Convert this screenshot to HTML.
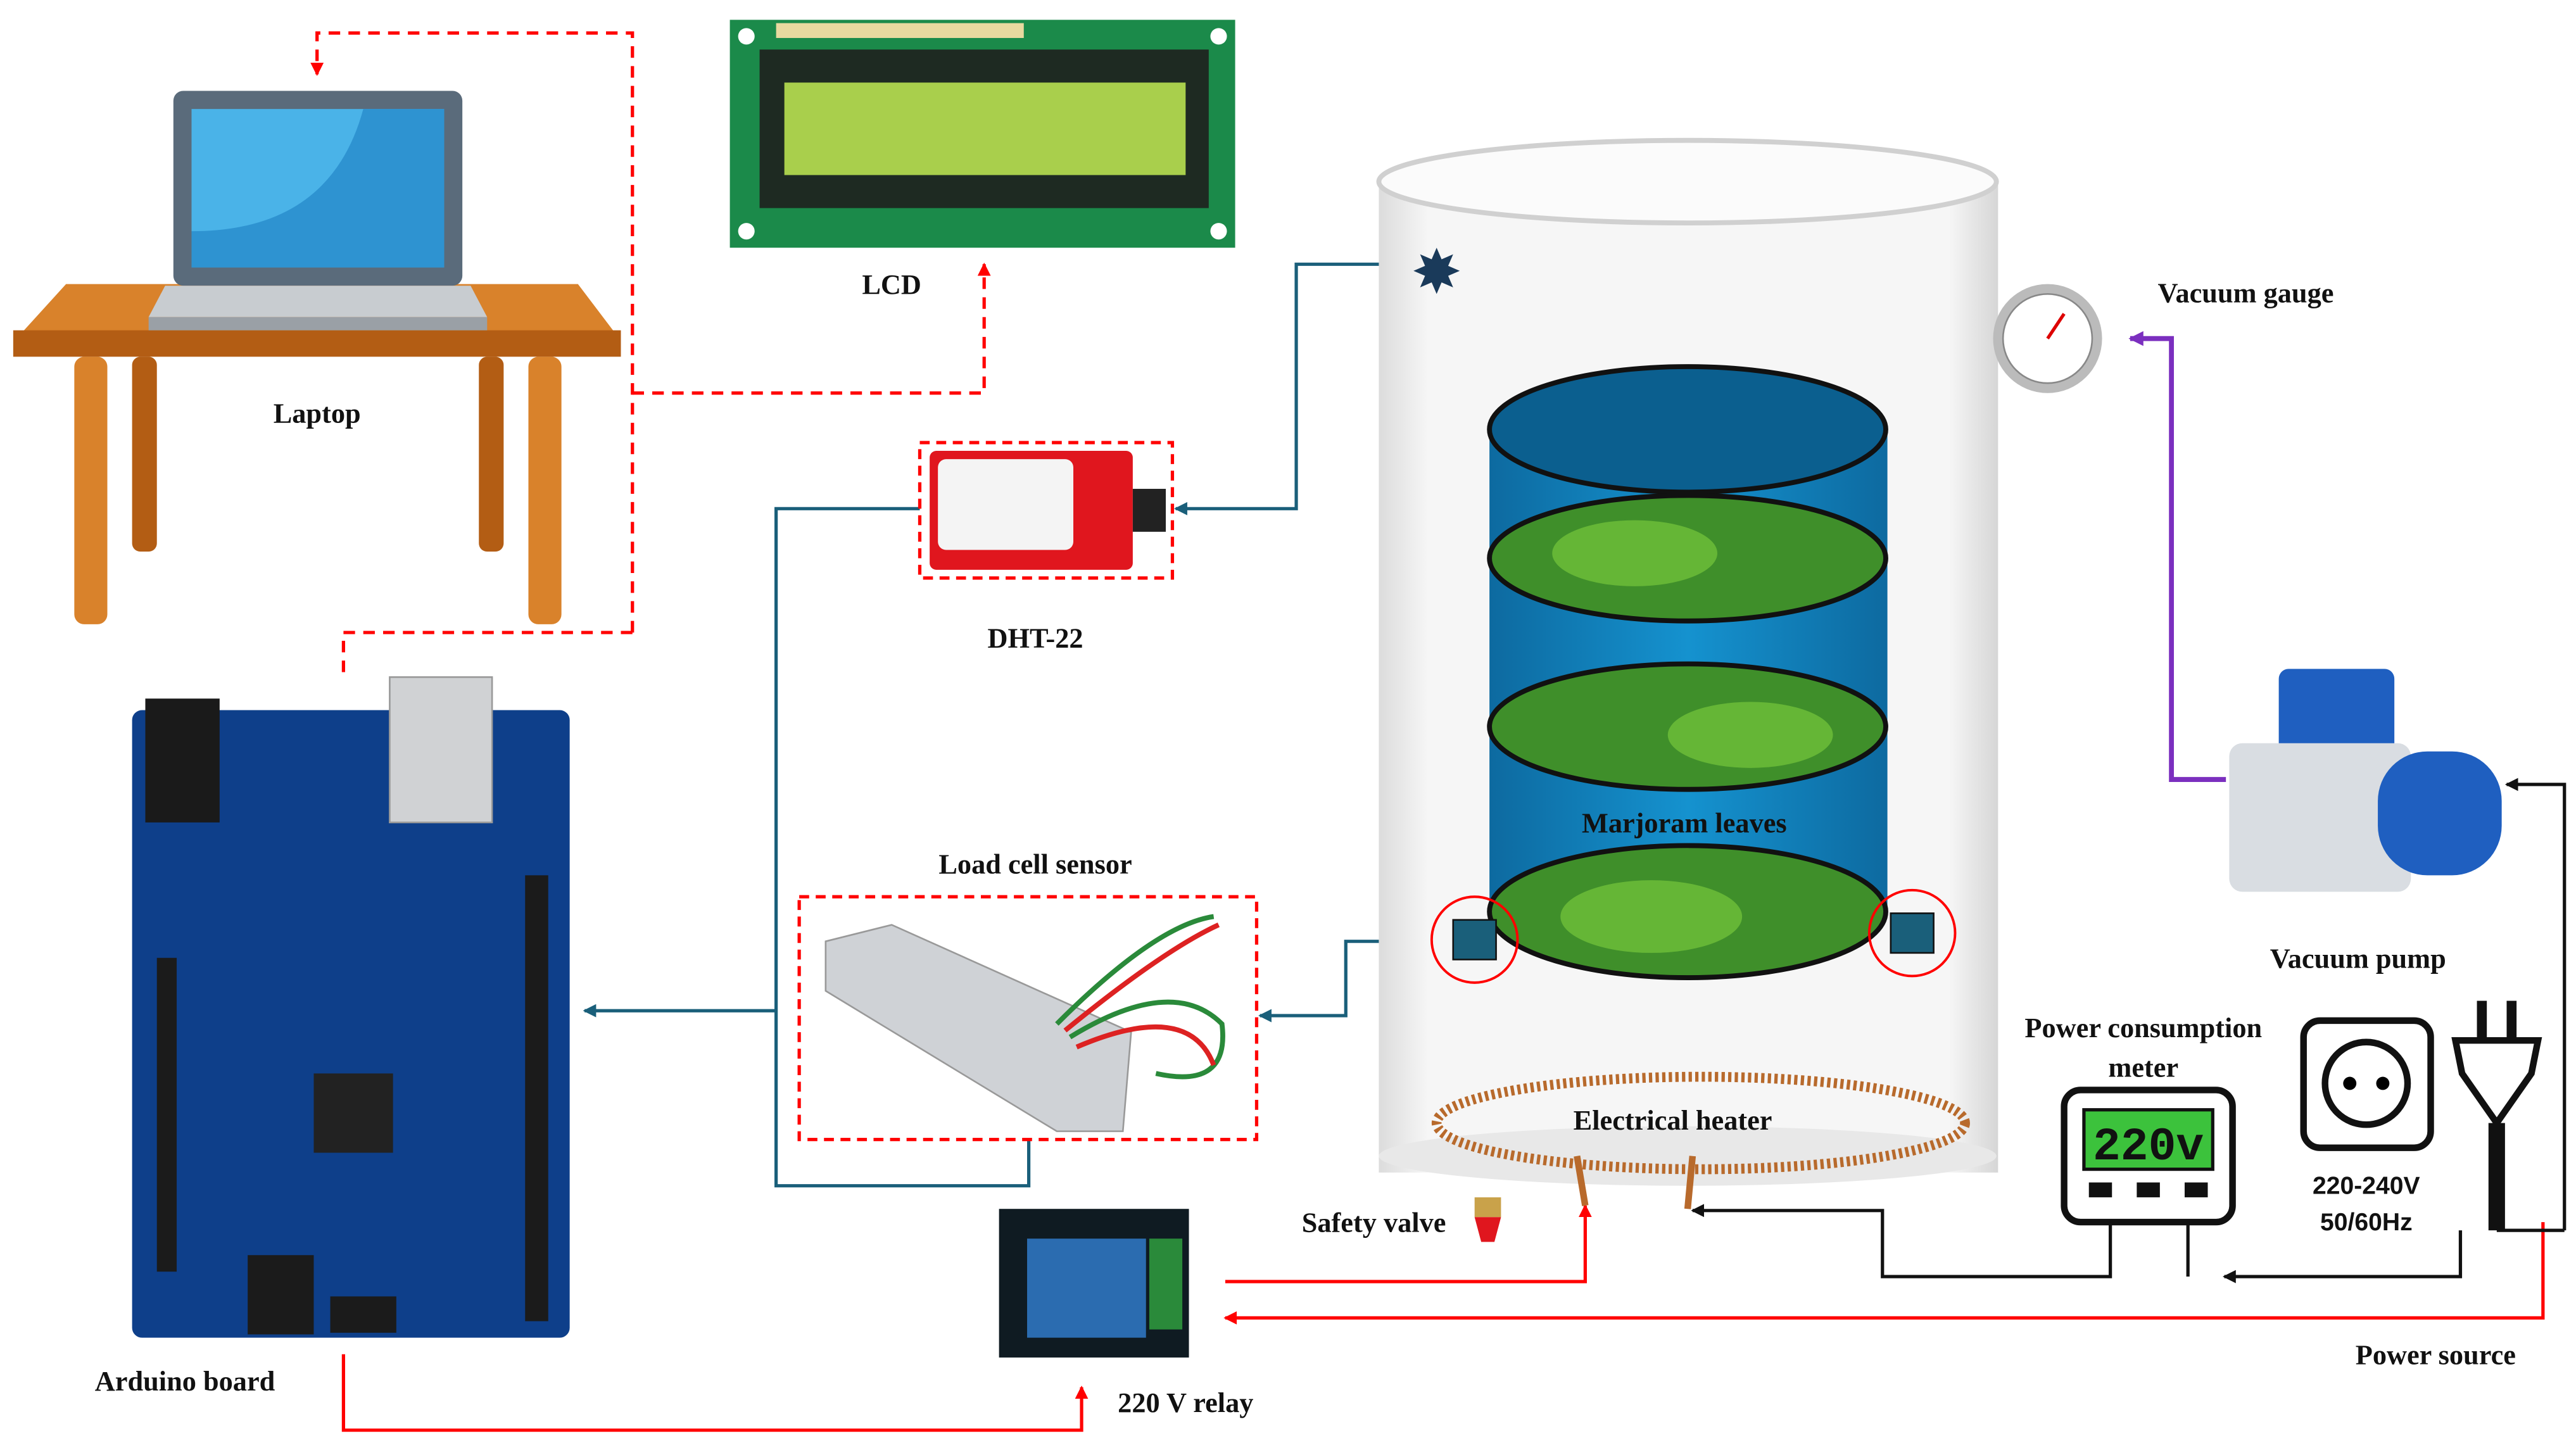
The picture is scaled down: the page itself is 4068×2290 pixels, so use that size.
<!DOCTYPE html>
<html><head><meta charset="utf-8"><style>html,body{margin:0;padding:0;background:#fff}svg{display:block}text{font-family:"Liberation Serif",serif;font-weight:bold;font-size:17px;fill:#111;text-anchor:middle}</style></head>
<body>
<svg width="4068" height="2290" viewBox="0 0 1560 878" preserveAspectRatio="none" xmlns="http://www.w3.org/2000/svg">
<defs>
<marker id="ar" markerWidth="8" markerHeight="8" refX="7" refY="4" orient="auto" markerUnits="userSpaceOnUse"><path d="M0,0 L8,4 L0,8z" fill="red"/></marker>
<marker id="at" markerWidth="8" markerHeight="8" refX="7" refY="4" orient="auto" markerUnits="userSpaceOnUse"><path d="M0,0 L8,4 L0,8z" fill="#1a5f7a"/></marker>
<marker id="ak" markerWidth="8" markerHeight="8" refX="7" refY="4" orient="auto" markerUnits="userSpaceOnUse"><path d="M0,0 L8,4 L0,8z" fill="#111"/></marker>
<marker id="ap" markerWidth="9" markerHeight="9" refX="8" refY="4.5" orient="auto" markerUnits="userSpaceOnUse"><path d="M0,0 L9,4.5 L0,9z" fill="#7b2fbf"/></marker>
<linearGradient id="glass" x1="0" x2="1"><stop offset="0" stop-color="#dcdcdc"/><stop offset=".08" stop-color="#f6f6f6"/><stop offset=".92" stop-color="#f6f6f6"/><stop offset="1" stop-color="#d6d6d6"/></linearGradient>
<linearGradient id="blu" x1="0" x2="1"><stop offset="0" stop-color="#0d6aa0"/><stop offset=".5" stop-color="#1592cf"/><stop offset="1" stop-color="#0d6aa0"/></linearGradient>
</defs>
<g fill="none" stroke="red" stroke-width="2" stroke-dasharray="7,5">
<path d="M383,383 L383,20 L192,20 L192,45" marker-end="url(#ar)"/>
<path d="M383,383 L208,383 L208,408"/>
<path d="M383,238 L596,238 L596,160" marker-end="url(#ar)"/>
</g>
<path d="M40,172 L350,172 L375,205 L10,205z" fill="#d9822b"/>
<rect x="8" y="200" width="368" height="16" fill="#b35d14"/>
<rect x="45" y="216" width="20" height="162" rx="6" fill="#d9822b"/><rect x="80" y="216" width="15" height="118" rx="5" fill="#b35d14"/>
<rect x="320" y="216" width="20" height="162" rx="6" fill="#d9822b"/><rect x="290" y="216" width="15" height="118" rx="5" fill="#b35d14"/>
<rect x="105" y="55" width="175" height="118" rx="6" fill="#5a6b7b"/>
<rect x="116" y="66" width="153" height="96" fill="#4ab3e8"/>
<path d="M116,140 Q200,140 220,66 L269,66 L269,162 L116,162z" fill="#2e93d1"/>
<path d="M100,173 L285,173 L295,192 L90,192z" fill="#c8ccd0"/>
<rect x="90" y="192" width="205" height="8" fill="#9aa0a6"/>
<text x="192" y="256">Laptop</text>
<rect x="442" y="12" width="306" height="138" fill="#1b8a4a"/>
<rect x="460" y="30" width="272" height="96" fill="#1e2a22"/>
<rect x="475" y="50" width="243" height="56" fill="#a9cf4c"/>
<rect x="470" y="14" width="150" height="9" fill="#e8d9a0"/>
<g fill="#fff"><circle cx="452" cy="22" r="5"/><circle cx="738" cy="22" r="5"/><circle cx="452" cy="140" r="5"/><circle cx="738" cy="140" r="5"/></g>
<text x="540" y="178">LCD</text>
<g fill="none" stroke="#1a5f7a" stroke-width="2">
<path d="M870,160 L785,160 L785,308 L712,308" marker-end="url(#at)"/>
<path d="M557,308 L470,308 L470,718 L623,718 L623,690"/>
<path d="M470,612 L354,612" marker-end="url(#at)"/>
<path d="M880,570 L815,570 L815,615 L763,615" marker-end="url(#at)"/>
</g>
<rect x="557" y="268" width="153" height="82" fill="none" stroke="red" stroke-width="2" stroke-dasharray="6,4"/>
<rect x="563" y="273" width="123" height="72" rx="4" fill="#e0161e"/>
<rect x="568" y="278" width="82" height="55" rx="5" fill="#f4f4f4"/>
<rect x="686" y="296" width="20" height="26" fill="#222"/>
<text x="627" y="392">DHT-22</text>
<text x="627" y="529">Load cell sensor</text>
<rect x="484" y="543" width="277" height="147" fill="none" stroke="red" stroke-width="2" stroke-dasharray="6,4"/>
<path d="M500,570 L540,560 L685,625 L680,685 L640,685 L500,600z" fill="#cfd2d6" stroke="#999"/>
<path d="M640,620 Q700,560 735,555 M648,628 Q710,590 740,620 Q745,660 700,650" fill="none" stroke="#2a8a3a" stroke-width="3"/>
<path d="M645,624 Q705,575 738,560 M652,634 Q720,605 735,645" fill="none" stroke="#d22" stroke-width="3"/>
<rect x="80" y="430" width="265" height="380" rx="6" fill="#0e3f8a"/>
<rect x="236" y="410" width="62" height="88" fill="#d0d2d4" stroke="#999"/>
<rect x="88" y="423" width="45" height="75" fill="#1a1a1a"/>
<rect x="190" y="650" width="48" height="48" fill="#222"/>
<g fill="#1b1b1b"><rect x="95" y="580" width="12" height="190"/><rect x="318" y="530" width="14" height="270"/><rect x="150" y="760" width="40" height="48"/><rect x="200" y="785" width="40" height="22"/></g>
<text x="112" y="842">Arduino board</text>
<rect x="605" y="732" width="115" height="90" fill="#0f1b22"/>
<rect x="622" y="750" width="72" height="60" fill="#2b6cb0"/>
<rect x="696" y="750" width="20" height="55" fill="#2a8a3a"/>
<text x="718" y="855">220 V relay</text>
<g fill="none" stroke="red" stroke-width="2">
<path d="M208,820 L208,866 L655,866 L655,840" marker-end="url(#ar)"/>
<path d="M742,776 L960,776 L960,730" marker-end="url(#ar)"/>
<path d="M1540,740 L1540,798 L742,798" marker-end="url(#ar)"/>
</g>
<rect x="835" y="110" width="375" height="600" fill="url(#glass)"/>
<ellipse cx="1022" cy="110" rx="187" ry="25" fill="#fbfbfb" stroke="#d0d0d0" stroke-width="3"/>
<ellipse cx="1022" cy="700" rx="187" ry="18" fill="#e8e8e8"/>
<rect x="902" y="260" width="241" height="292" fill="url(#blu)"/>
<ellipse cx="1022" cy="260" rx="120" ry="38" fill="#0b5f8f" stroke="#111" stroke-width="3"/>
<g stroke="#111" stroke-width="3" fill="#3f8f2a">
<ellipse cx="1022" cy="338" rx="120" ry="38"/><ellipse cx="1022" cy="440" rx="120" ry="38"/><ellipse cx="1022" cy="552" rx="120" ry="40"/>
</g>
<g fill="#6fbf3a" opacity=".8"><ellipse cx="990" cy="335" rx="50" ry="20"/><ellipse cx="1060" cy="445" rx="50" ry="20"/><ellipse cx="1000" cy="555" rx="55" ry="22"/></g>
<text x="1020" y="504">Marjoram leaves</text>
<circle cx="893" cy="569" r="26" fill="none" stroke="red" stroke-width="1.5"/><rect x="880" y="557" width="26" height="24" fill="#1a5f7a" stroke="#111"/>
<circle cx="1158" cy="565" r="26" fill="none" stroke="red" stroke-width="1.5"/><rect x="1145" y="553" width="26" height="24" fill="#1a5f7a" stroke="#111"/>
<path d="M870,150 l3,7 7,-3 -3,7 7,3 -7,3 3,7 -7,-3 -3,7 -3,-7 -7,3 3,-7 -7,-3 7,-3 -3,-7 7,3z" fill="#1a3a5a"/>
<ellipse cx="1030" cy="680" rx="160" ry="28" fill="none" stroke="#b86a2c" stroke-width="6" stroke-dasharray="2,2"/>
<path d="M955,700 L960,730 M1025,700 L1022,732" stroke="#b86a2c" stroke-width="4"/>
<text x="1013" y="684">Electrical  heater</text>
<text x="832" y="746">Safety valve</text>
<rect x="893" y="725" width="16" height="12" fill="#c9a24a"/><path d="M893,737 L909,737 L905,752 L897,752z" fill="#e0161e"/>
<circle cx="1240" cy="205" r="33" fill="#bbb"/><circle cx="1240" cy="205" r="27" fill="#fff" stroke="#888"/><path d="M1240,205 L1250,190" stroke="#d00" stroke-width="2"/>
<text x="1360" y="183">Vacuum gauge</text>
<path d="M1348,472 L1315,472 L1315,205 L1290,205" fill="none" stroke="#7b2fbf" stroke-width="3" marker-end="url(#ap)"/>
<rect x="1380" y="405" width="70" height="60" rx="6" fill="#1f5fc0"/>
<rect x="1350" y="450" width="110" height="90" rx="8" fill="#d9dde2"/>
<rect x="1440" y="455" width="75" height="75" rx="30" fill="#1f5fc0"/>
<text x="1428" y="586">Vacuum pump</text>
<text x="1298" y="628">Power consumption</text><text x="1298" y="652">meter</text>
<rect x="1250" y="660" width="102" height="80" rx="10" fill="#fff" stroke="#111" stroke-width="4"/>
<rect x="1262" y="672" width="78" height="36" fill="#3cc23c" stroke="#111" stroke-width="2"/>
<text x="1301" y="702" style="font-family:'Liberation Mono',monospace;font-size:28px;fill:#111">220v</text>
<g fill="#111"><rect x="1265" y="716" width="14" height="9"/><rect x="1294" y="716" width="14" height="9"/><rect x="1323" y="716" width="14" height="9"/></g>
<rect x="1395" y="618" width="77" height="77" rx="10" fill="#fff" stroke="#111" stroke-width="4"/>
<circle cx="1433" cy="656" r="25" fill="none" stroke="#111" stroke-width="4"/><circle cx="1423" cy="656" r="4"/><circle cx="1443" cy="656" r="4"/>
<text x="1433" y="723" style="font-family:'Liberation Sans',sans-serif;font-size:15px">220-240V</text>
<text x="1433" y="745" style="font-family:'Liberation Sans',sans-serif;font-size:15px">50/60Hz</text>
<rect x="1500" y="606" width="6" height="25" fill="#111"/><rect x="1518" y="606" width="6" height="25" fill="#111"/>
<path d="M1487,630 L1537,630 L1533,650 L1512,680 L1491,650z" fill="#fff" stroke="#111" stroke-width="4"/>
<rect x="1507" y="680" width="10" height="65" fill="#111"/>
<g fill="none" stroke="#111" stroke-width="2">
<path d="M1553,745 L1553,475 L1518,475" marker-end="url(#ak)"/>
<path d="M1512,745 L1553,745"/>
<path d="M1490,745 L1490,773 L1347,773" marker-end="url(#ak)"/>
<path d="M1278,740 L1278,773 L1140,773 L1140,733 L1025,733" marker-end="url(#ak)"/>
<path d="M1325,740 L1325,773"/>
</g>
<text x="1475" y="826">Power source</text>
</svg>
</body></html>
